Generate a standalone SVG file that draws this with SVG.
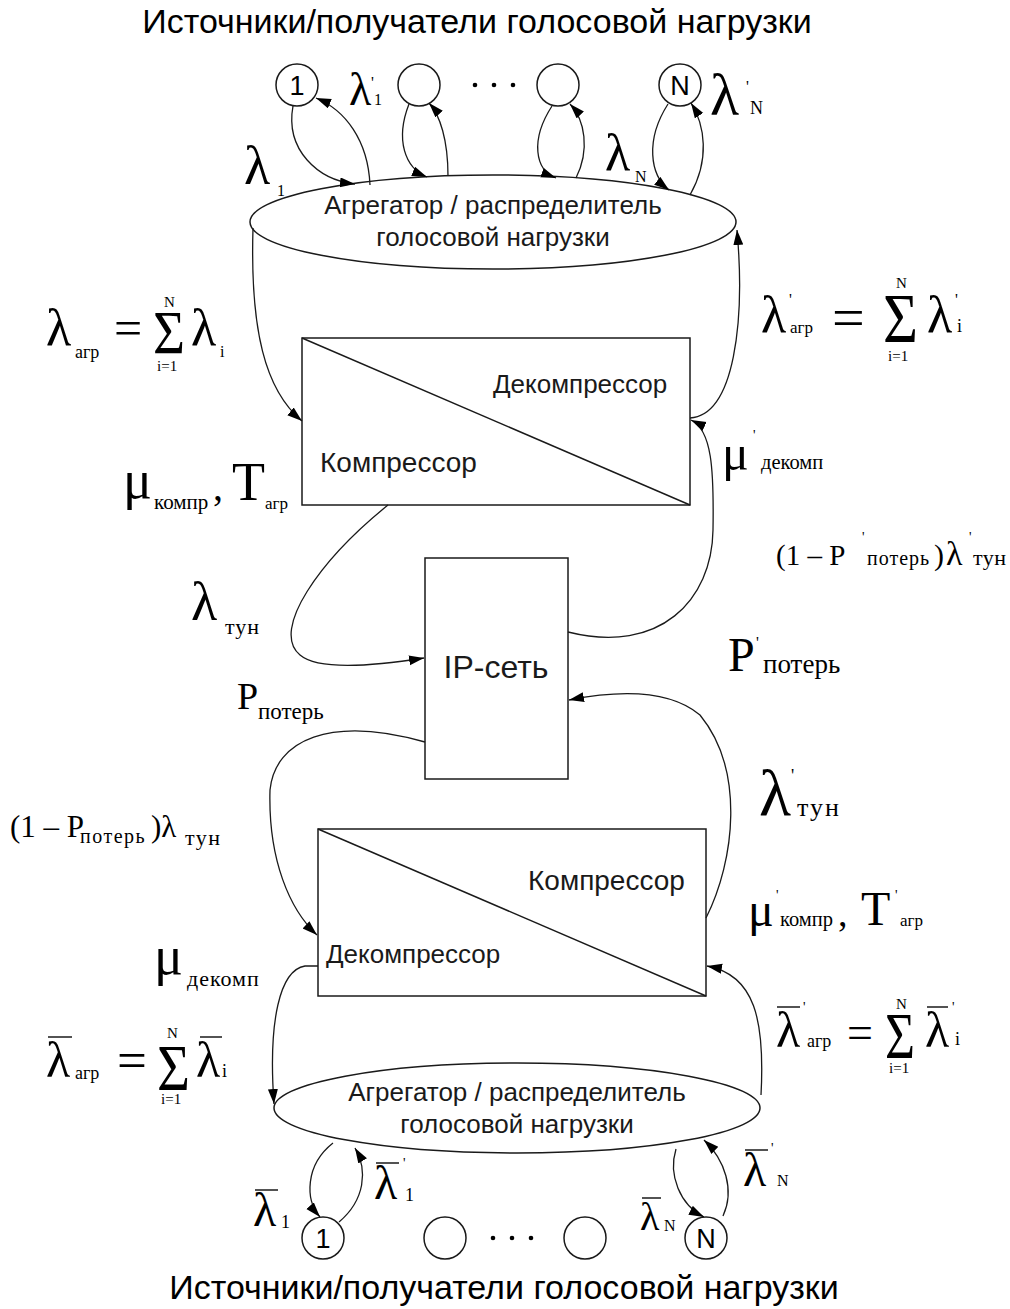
<svg xmlns="http://www.w3.org/2000/svg" width="1010" height="1309" viewBox="0 0 1010 1309">
<style>
.bg{fill:#fff}
.shape{fill:#fff;stroke:#1a1a1a;stroke-width:1.5}
.line{fill:none;stroke:#1a1a1a;stroke-width:1.5}
.conn{fill:none;stroke:#1a1a1a;stroke-width:1.3;marker-end:url(#arr)}
.title{font-family:"Liberation Sans",Arial,sans-serif;font-size:34px;fill:#000;text-anchor:middle}
.node{font-family:"Liberation Sans",Arial,sans-serif;font-size:26px;fill:#1a1a1a}
.circ{font-family:"Liberation Sans",Arial,sans-serif;font-size:27px;fill:#000;text-anchor:middle}
.nc{text-anchor:middle}
.m{font-family:"Liberation Serif","Times New Roman",serif;fill:#000}
.dot{fill:#000}
</style>
<defs>
<marker id="arr" markerUnits="userSpaceOnUse" markerWidth="16" markerHeight="12" refX="15" refY="5" orient="auto">
<path d="M0,0 L15,5 L0,10 z" fill="#000"/>
</marker>
</defs>
<rect class="bg" x="0" y="0" width="1010" height="1309"/>

<text class="title" x="477" y="33">Источники/получатели голосовой нагрузки</text>
<text class="title" x="504" y="1299">Источники/получатели голосовой нагрузки</text>

<g id="src-top-1"><circle class="shape" cx="297" cy="85" r="21"/><text class="circ" x="297" y="95">1</text></g>
<g id="src-top-2"><circle class="shape" cx="419" cy="85" r="21"/></g>
<g id="dots-top"><circle class="dot" cx="475" cy="85" r="2.3"/><circle class="dot" cx="494" cy="85" r="2.3"/><circle class="dot" cx="513" cy="85" r="2.3"/></g>
<g id="src-top-3"><circle class="shape" cx="558" cy="85" r="21"/></g>
<g id="src-top-N"><circle class="shape" cx="680" cy="85" r="21"/><text class="circ" x="680" y="95">N</text></g>

<g id="agg-top"><ellipse class="shape" cx="493" cy="222" rx="243" ry="47"/>
<text class="node nc" x="493" y="214">Агрегатор / распределитель</text>
<text class="node nc" x="493" y="246">голосовой нагрузки</text></g>

<g id="codec-top"><rect class="shape" x="302" y="338" width="388" height="167"/><line class="line" x1="302" y1="338" x2="690" y2="505"/>
<text class="node" x="493" y="393">Декомпрессор</text>
<text class="node" x="320" y="472" style="font-size:28px">Компрессор</text></g>

<g id="ip-net"><rect class="shape" x="425" y="558" width="143" height="221"/>
<text class="node nc" x="496" y="678" style="font-size:32px">IP-сеть</text></g>

<g id="codec-bottom"><rect class="shape" x="318" y="829" width="388" height="167"/><line class="line" x1="318" y1="829" x2="706" y2="996"/>
<text class="node" x="528" y="890" style="font-size:28px">Компрессор</text>
<text class="node" x="326" y="963">Декомпрессор</text></g>

<g id="agg-bottom"><ellipse class="shape" cx="517" cy="1108" rx="243" ry="45"/>
<text class="node nc" x="517" y="1101">Агрегатор / распределитель</text>
<text class="node nc" x="517" y="1133">голосовой нагрузки</text></g>

<g id="src-bot-1"><circle class="shape" cx="323" cy="1238" r="21"/><text class="circ" x="323" y="1248">1</text></g>
<g id="src-bot-2"><circle class="shape" cx="445" cy="1238" r="21"/></g>
<g id="dots-bot"><circle class="dot" cx="493" cy="1238" r="2.3"/><circle class="dot" cx="512" cy="1238" r="2.3"/><circle class="dot" cx="531" cy="1238" r="2.3"/></g>
<g id="src-bot-3"><circle class="shape" cx="585" cy="1238" r="21"/></g>
<g id="src-bot-N"><circle class="shape" cx="706" cy="1238" r="21"/><text class="circ" x="706" y="1248">N</text></g>

<g id="connectors">
<path class="conn" d="M293,106 C285,150 318,180 355,184"/>
<path class="conn" d="M370,185 C368,140 345,110 316,98"/>
<path class="conn" d="M409,104 C395,140 405,168 427,177"/>
<path class="conn" d="M448,176 C448,140 440,115 429,103"/>
<path class="conn" d="M552,106 C530,140 535,170 556,178"/>
<path class="conn" d="M576,178 C590,150 585,120 570,104"/>
<path class="conn" d="M668,104 C645,140 650,175 669,190"/>
<path class="conn" d="M690,195 C710,160 705,125 691,103"/>
<path class="conn" d="M253,228 C250,330 265,390 302,421"/>
<path class="conn" d="M690,418 C735,415 745,320 737,230"/>
<path class="conn" d="M568,632 C660,655 712,600 713,530 C714,470 712,430 691,420"/>
<path class="conn" d="M388,505 C320,560 270,630 300,655 C320,672 380,665 424,658"/>
<path class="conn" d="M425,742 C330,715 275,740 270,790 C268,860 290,910 317,935"/>
<path class="conn" d="M706,918 C735,860 745,770 700,715 C670,690 620,690 569,700"/>
<path class="conn" d="M318,966 L305,966 C280,970 268,1020 274,1104"/>
<path class="conn" d="M761,1095 C765,1020 755,975 707,966"/>
<path class="conn" d="M333,1143 C305,1165 305,1200 320,1217"/>
<path class="conn" d="M339,1222 C365,1200 368,1170 355,1148"/>
<path class="conn" d="M676,1149 C668,1175 680,1205 704,1217"/>
<path class="conn" d="M723,1216 C735,1190 725,1160 704,1140"/>
</g>

<g id="labels" class="m">
<text x="244" y="184" font-size="54">λ</text><text x="277" y="196" font-size="16">1</text>
<text x="349" y="105" font-size="46">λ</text><text x="371" y="88" font-size="16">'</text><text x="374" y="105" font-size="16">1</text>
<text x="605" y="170" font-size="52">λ</text><text x="635" y="182" font-size="16">N</text>
<text x="710" y="115" font-size="60">λ</text><text x="746" y="92" font-size="16">'</text><text x="750" y="114" font-size="18">N</text>

<text x="46" y="345" font-size="52">λ</text><text x="75" y="358" font-size="18">агр</text>
<text x="114" y="345" font-size="50">=</text>
<text x="153" y="353" font-size="62" textLength="32" lengthAdjust="spacingAndGlyphs">Σ</text><text x="164" y="307" font-size="15">N</text><text x="157" y="371" font-size="15">i=1</text>
<text x="191" y="345" font-size="52">λ</text><text x="220" y="357" font-size="16">i</text>

<text x="123" y="498" font-size="54">μ</text><text x="154" y="509" font-size="21">компр</text>
<text x="213" y="500" font-size="40">,</text>
<text x="232" y="500" font-size="54">T</text><text x="265" y="509" font-size="17">агр</text>

<text x="761" y="332" font-size="52">λ</text><text x="789" y="305" font-size="16">'</text><text x="790" y="333" font-size="17">агр</text>
<text x="832" y="337" font-size="58">=</text>
<text x="883" y="342" font-size="70" textLength="35" lengthAdjust="spacingAndGlyphs">Σ</text><text x="896" y="288" font-size="15">N</text><text x="888" y="361" font-size="15">i=1</text>
<text x="927" y="332" font-size="52">λ</text><text x="955" y="305" font-size="16">'</text><text x="957" y="332" font-size="18">i</text>

<text x="722" y="470" font-size="50">μ</text><text x="753" y="440" font-size="14">'</text><text x="761" y="469" font-size="20.5">декомп</text>

<text x="776" y="565" font-size="29">(1 – P</text><text x="862" y="542" font-size="14">'</text><text x="867" y="565" font-size="20" letter-spacing="1">потерь</text>
<text x="934" y="565" font-size="30">)</text><text x="946" y="565" font-size="34">λ</text><text x="969" y="542" font-size="14">'</text><text x="973" y="565" font-size="22" letter-spacing="0.5">тун</text>

<text x="191" y="620" font-size="54">λ</text><text x="225" y="634" font-size="22" letter-spacing="1">тун</text>
<text x="728" y="671" font-size="48">P</text><text x="756" y="648" font-size="16">'</text><text x="763" y="673" font-size="27">потерь</text>
<text x="237" y="709" font-size="38">P</text><text x="258" y="719" font-size="23">потерь</text>

<text x="759" y="815" font-size="66">λ</text><text x="791" y="782" font-size="18">'</text><text x="797" y="816" font-size="26" letter-spacing="2">тун</text>

<text x="10" y="837" font-size="31">(1 – P</text><text x="80" y="843" font-size="20" letter-spacing="1.5">потерь</text>
<text x="151" y="837" font-size="31">)λ</text><text x="185" y="845" font-size="22" letter-spacing="1.5">тун</text>

<text x="748" y="926" font-size="48">μ</text><text x="776" y="900" font-size="14">'</text><text x="780" y="926" font-size="20.5">компр</text>
<text x="838" y="926" font-size="38">,</text>
<text x="861" y="925" font-size="48">T</text><text x="895" y="900" font-size="14">'</text><text x="900" y="926" font-size="17">агр</text>

<text x="154" y="974" font-size="54">μ</text><text x="187" y="986" font-size="22" letter-spacing="1">декомп</text>

<line class="line" x1="48" y1="1037" x2="72" y2="1037"/>
<text x="46" y="1077" font-size="50">λ</text><text x="75" y="1079" font-size="18">агр</text>
<text x="117" y="1078" font-size="53">=</text>
<text x="157" y="1090" font-size="66" textLength="33" lengthAdjust="spacingAndGlyphs">Σ</text><text x="167" y="1038" font-size="15">N</text><text x="161" y="1104" font-size="15">i=1</text>
<line class="line" x1="200" y1="1037" x2="222" y2="1037"/>
<text x="196" y="1077" font-size="50">λ</text><text x="222" y="1077" font-size="18">i</text>

<line class="line" x1="777" y1="1007" x2="800" y2="1007"/>
<text x="776" y="1047" font-size="50">λ</text><text x="803" y="1012" font-size="14">'</text><text x="807" y="1047" font-size="18">агр</text>
<text x="847" y="1048" font-size="46">=</text>
<text x="885" y="1058" font-size="66" textLength="30" lengthAdjust="spacingAndGlyphs">Σ</text><text x="896" y="1009" font-size="15">N</text><text x="889" y="1073" font-size="15">i=1</text>
<line class="line" x1="927" y1="1007" x2="948" y2="1007"/>
<text x="925" y="1047" font-size="50">λ</text><text x="952" y="1012" font-size="14">'</text><text x="955" y="1045" font-size="18">i</text>

<line class="line" x1="255" y1="1190" x2="278" y2="1190"/>
<text x="253" y="1226" font-size="48">λ</text><text x="281" y="1228" font-size="18">1</text>
<line class="line" x1="376" y1="1163" x2="399" y2="1163"/>
<text x="374" y="1199" font-size="48">λ</text><text x="403" y="1168" font-size="14">'</text><text x="405" y="1201" font-size="18">1</text>
<line class="line" x1="642" y1="1198" x2="661" y2="1198"/>
<text x="640" y="1230" font-size="40">λ</text><text x="664" y="1231" font-size="16">N</text>
<line class="line" x1="745" y1="1150" x2="768" y2="1150"/>
<text x="743" y="1186" font-size="48">λ</text><text x="771" y="1153" font-size="14">'</text><text x="777" y="1186" font-size="16">N</text>
</g>
</svg>
